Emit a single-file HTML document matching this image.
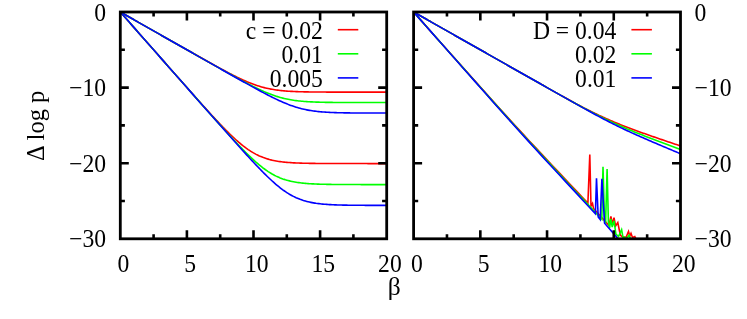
<!DOCTYPE html><html lang="en"><head><meta charset="utf-8"><style>html,body{margin:0;padding:0;background:#fff}svg{display:block;will-change:transform}text{font-family:"Liberation Serif",serif;font-size:25px;fill:#000}</style></head><body>
<svg width="747" height="319" viewBox="0 0 747 319">
<rect width="747" height="319" fill="#fff"/>
<defs><clipPath id="c1"><rect x="120.3" y="12.0" width="266.4" height="226.8"/></clipPath><clipPath id="c2"><rect x="413.6" y="12.0" width="266.9" height="226.8"/></clipPath></defs>
<g clip-path="url(#c1)">
<polyline points="120.30,12.00 121.63,12.76 122.96,13.51 124.30,14.27 125.63,15.02 126.96,15.78 128.29,16.54 129.62,17.29 130.96,18.05 132.29,18.80 133.62,19.56 134.95,20.32 136.28,21.07 137.62,21.83 138.95,22.58 140.28,23.34 141.61,24.10 142.94,24.85 144.28,25.61 145.61,26.36 146.94,27.12 148.27,27.87 149.60,28.63 150.94,29.39 152.27,30.14 153.60,30.90 154.93,31.65 156.26,32.41 157.60,33.16 158.93,33.92 160.26,34.68 161.59,35.43 162.92,36.19 164.26,36.94 165.59,37.70 166.92,38.45 168.25,39.21 169.58,39.96 170.92,40.72 172.25,41.47 173.58,42.23 174.91,42.98 176.24,43.74 177.58,44.49 178.91,45.25 180.24,46.00 181.57,46.76 182.90,47.51 184.24,48.27 185.57,49.02 186.90,49.77 188.23,50.53 189.56,51.28 190.90,52.03 192.23,52.78 193.56,53.53 194.89,54.29 196.22,55.04 197.56,55.79 198.89,56.54 200.22,57.28 201.55,58.03 202.88,58.78 204.22,59.53 205.55,60.27 206.88,61.02 208.21,61.76 209.54,62.50 210.88,63.24 212.21,63.98 213.54,64.72 214.87,65.45 216.20,66.18 217.54,66.91 218.87,67.64 220.20,68.37 221.53,69.09 222.86,69.81 224.20,70.52 225.53,71.23 226.86,71.94 228.19,72.64 229.52,73.34 230.86,74.03 232.19,74.71 233.52,75.39 234.85,76.06 236.18,76.72 237.52,77.37 238.85,78.02 240.18,78.65 241.51,79.27 242.84,79.89 244.18,80.49 245.51,81.07 246.84,81.65 248.17,82.21 249.50,82.75 250.84,83.28 252.17,83.80 253.50,84.29 254.83,84.77 256.16,85.23 257.50,85.68 258.83,86.10 260.16,86.51 261.49,86.90 262.82,87.26 264.16,87.61 265.49,87.95 266.82,88.26 268.15,88.55 269.48,88.83 270.82,89.09 272.15,89.33 273.48,89.56 274.81,89.77 276.14,89.96 277.48,90.15 278.81,90.31 280.14,90.47 281.47,90.61 282.80,90.75 284.14,90.87 285.47,90.98 286.80,91.08 288.13,91.18 289.46,91.26 290.80,91.34 292.13,91.41 293.46,91.48 294.79,91.54 296.12,91.59 297.46,91.64 298.79,91.69 300.12,91.73 301.45,91.77 302.78,91.80 304.12,91.83 305.45,91.86 306.78,91.89 308.11,91.91 309.44,91.93 310.78,91.95 312.11,91.97 313.44,91.98 314.77,92.00 316.10,92.01 317.44,92.02 318.77,92.03 320.10,92.04 321.43,92.05 322.76,92.06 324.10,92.07 325.43,92.07 326.76,92.08 328.09,92.09 329.42,92.09 330.76,92.09 332.09,92.10 333.42,92.10 334.75,92.11 336.08,92.11 337.42,92.11 338.75,92.11 340.08,92.12 341.41,92.12 342.74,92.12 344.08,92.12 345.41,92.12 346.74,92.12 348.07,92.12 349.40,92.13 350.74,92.13 352.07,92.13 353.40,92.13 354.73,92.13 356.06,92.13 357.40,92.13 358.73,92.13 360.06,92.13 361.39,92.13 362.72,92.13 364.06,92.13 365.39,92.13 366.72,92.13 368.05,92.13 369.38,92.13 370.72,92.13 372.05,92.13 373.38,92.13 374.71,92.13 376.04,92.13 377.38,92.13 378.71,92.13 380.04,92.13 381.37,92.14 382.70,92.14 384.04,92.14 385.37,92.14 386.70,92.14" fill="none" stroke="#ff0000" stroke-width="1.6" stroke-linejoin="miter" stroke-linecap="butt"/>
<polyline points="120.30,12.00 121.63,12.76 122.96,13.51 124.30,14.27 125.63,15.02 126.96,15.78 128.29,16.54 129.62,17.29 130.96,18.05 132.29,18.80 133.62,19.56 134.95,20.32 136.28,21.07 137.62,21.83 138.95,22.58 140.28,23.34 141.61,24.10 142.94,24.85 144.28,25.61 145.61,26.36 146.94,27.12 148.27,27.88 149.60,28.63 150.94,29.39 152.27,30.14 153.60,30.90 154.93,31.66 156.26,32.41 157.60,33.17 158.93,33.92 160.26,34.68 161.59,35.43 162.92,36.19 164.26,36.95 165.59,37.70 166.92,38.46 168.25,39.21 169.58,39.97 170.92,40.73 172.25,41.48 173.58,42.24 174.91,42.99 176.24,43.75 177.58,44.50 178.91,45.26 180.24,46.02 181.57,46.77 182.90,47.53 184.24,48.28 185.57,49.04 186.90,49.79 188.23,50.55 189.56,51.30 190.90,52.06 192.23,52.81 193.56,53.57 194.89,54.32 196.22,55.08 197.56,55.83 198.89,56.59 200.22,57.34 201.55,58.09 202.88,58.85 204.22,59.60 205.55,60.36 206.88,61.11 208.21,61.86 209.54,62.61 210.88,63.37 212.21,64.12 213.54,64.87 214.87,65.62 216.20,66.37 217.54,67.12 218.87,67.87 220.20,68.61 221.53,69.36 222.86,70.11 224.20,70.85 225.53,71.60 226.86,72.34 228.19,73.08 229.52,73.82 230.86,74.56 232.19,75.30 233.52,76.03 234.85,76.76 236.18,77.49 237.52,78.22 238.85,78.94 240.18,79.67 241.51,80.38 242.84,81.10 244.18,81.81 245.51,82.51 246.84,83.21 248.17,83.91 249.50,84.60 250.84,85.28 252.17,85.95 253.50,86.62 254.83,87.28 256.16,87.93 257.50,88.58 258.83,89.21 260.16,89.83 261.49,90.44 262.82,91.04 264.16,91.62 265.49,92.19 266.82,92.75 268.15,93.29 269.48,93.82 270.82,94.33 272.15,94.82 273.48,95.30 274.81,95.76 276.14,96.20 277.48,96.62 278.81,97.02 280.14,97.40 281.47,97.77 282.80,98.11 284.14,98.44 285.47,98.75 286.80,99.04 288.13,99.31 289.46,99.57 290.80,99.81 292.13,100.03 293.46,100.24 294.79,100.43 296.12,100.61 297.46,100.78 298.79,100.93 300.12,101.07 301.45,101.20 302.78,101.32 304.12,101.43 305.45,101.53 306.78,101.63 308.11,101.71 309.44,101.79 310.78,101.86 312.11,101.92 313.44,101.98 314.77,102.04 316.10,102.09 317.44,102.13 318.77,102.17 320.10,102.21 321.43,102.24 322.76,102.27 324.10,102.30 325.43,102.33 326.76,102.35 328.09,102.37 329.42,102.39 330.76,102.40 332.09,102.42 333.42,102.43 334.75,102.45 336.08,102.46 337.42,102.47 338.75,102.48 340.08,102.49 341.41,102.49 342.74,102.50 344.08,102.51 345.41,102.51 346.74,102.52 348.07,102.52 349.40,102.53 350.74,102.53 352.07,102.54 353.40,102.54 354.73,102.54 356.06,102.54 357.40,102.55 358.73,102.55 360.06,102.55 361.39,102.55 362.72,102.55 364.06,102.56 365.39,102.56 366.72,102.56 368.05,102.56 369.38,102.56 370.72,102.56 372.05,102.56 373.38,102.56 374.71,102.56 376.04,102.56 377.38,102.56 378.71,102.56 380.04,102.56 381.37,102.57 382.70,102.57 384.04,102.57 385.37,102.57 386.70,102.57" fill="none" stroke="#00ff00" stroke-width="1.6" stroke-linejoin="miter" stroke-linecap="butt"/>
<polyline points="120.30,12.00 121.63,12.76 122.96,13.51 124.30,14.27 125.63,15.02 126.96,15.78 128.29,16.54 129.62,17.29 130.96,18.05 132.29,18.80 133.62,19.56 134.95,20.32 136.28,21.07 137.62,21.83 138.95,22.58 140.28,23.34 141.61,24.10 142.94,24.85 144.28,25.61 145.61,26.36 146.94,27.12 148.27,27.88 149.60,28.63 150.94,29.39 152.27,30.14 153.60,30.90 154.93,31.66 156.26,32.41 157.60,33.17 158.93,33.92 160.26,34.68 161.59,35.44 162.92,36.19 164.26,36.95 165.59,37.70 166.92,38.46 168.25,39.22 169.58,39.97 170.92,40.73 172.25,41.48 173.58,42.24 174.91,43.00 176.24,43.75 177.58,44.51 178.91,45.26 180.24,46.02 181.57,46.77 182.90,47.53 184.24,48.29 185.57,49.04 186.90,49.80 188.23,50.55 189.56,51.31 190.90,52.07 192.23,52.82 193.56,53.58 194.89,54.33 196.22,55.09 197.56,55.84 198.89,56.60 200.22,57.36 201.55,58.11 202.88,58.87 204.22,59.62 205.55,60.38 206.88,61.13 208.21,61.89 209.54,62.64 210.88,63.40 212.21,64.15 213.54,64.91 214.87,65.66 216.20,66.42 217.54,67.17 218.87,67.92 220.20,68.68 221.53,69.43 222.86,70.19 224.20,70.94 225.53,71.69 226.86,72.44 228.19,73.20 229.52,73.95 230.86,74.70 232.19,75.45 233.52,76.20 234.85,76.95 236.18,77.70 237.52,78.45 238.85,79.20 240.18,79.94 241.51,80.69 242.84,81.44 244.18,82.18 245.51,82.92 246.84,83.66 248.17,84.40 249.50,85.14 250.84,85.88 252.17,86.61 253.50,87.34 254.83,88.07 256.16,88.80 257.50,89.52 258.83,90.25 260.16,90.96 261.49,91.68 262.82,92.39 264.16,93.09 265.49,93.79 266.82,94.48 268.15,95.17 269.48,95.85 270.82,96.53 272.15,97.20 273.48,97.86 274.81,98.51 276.14,99.15 277.48,99.78 278.81,100.40 280.14,101.01 281.47,101.60 282.80,102.19 284.14,102.76 285.47,103.31 286.80,103.85 288.13,104.38 289.46,104.89 290.80,105.38 292.13,105.85 293.46,106.31 294.79,106.75 296.12,107.17 297.46,107.57 298.79,107.95 300.12,108.31 301.45,108.66 302.78,108.98 304.12,109.29 305.45,109.58 306.78,109.85 308.11,110.10 309.44,110.34 310.78,110.56 312.11,110.77 313.44,110.96 314.77,111.14 316.10,111.30 317.44,111.46 318.77,111.60 320.10,111.72 321.43,111.84 322.76,111.95 324.10,112.05 325.43,112.14 326.76,112.23 328.09,112.31 329.42,112.38 330.76,112.44 332.09,112.50 333.42,112.55 334.75,112.60 336.08,112.64 337.42,112.68 338.75,112.72 340.08,112.75 341.41,112.78 342.74,112.81 344.08,112.84 345.41,112.86 346.74,112.88 348.07,112.90 349.40,112.91 350.74,112.93 352.07,112.94 353.40,112.96 354.73,112.97 356.06,112.98 357.40,112.99 358.73,113.00 360.06,113.00 361.39,113.01 362.72,113.02 364.06,113.02 365.39,113.03 366.72,113.03 368.05,113.04 369.38,113.04 370.72,113.04 372.05,113.05 373.38,113.05 374.71,113.05 376.04,113.06 377.38,113.06 378.71,113.06 380.04,113.06 381.37,113.06 382.70,113.06 384.04,113.07 385.37,113.07 386.70,113.07" fill="none" stroke="#0000ff" stroke-width="1.6" stroke-linejoin="miter" stroke-linecap="butt"/>
<polyline points="120.30,12.00 121.63,13.51 122.96,15.02 124.30,16.54 125.63,18.05 126.96,19.56 128.29,21.07 129.62,22.58 130.96,24.09 132.29,25.61 133.62,27.12 134.95,28.63 136.28,30.14 137.62,31.65 138.95,33.17 140.28,34.68 141.61,36.19 142.94,37.70 144.28,39.21 145.61,40.72 146.94,42.24 148.27,43.75 149.60,45.26 150.94,46.77 152.27,48.28 153.60,49.79 154.93,51.30 156.26,52.81 157.60,54.32 158.93,55.84 160.26,57.35 161.59,58.86 162.92,60.37 164.26,61.88 165.59,63.39 166.92,64.90 168.25,66.41 169.58,67.92 170.92,69.43 172.25,70.93 173.58,72.44 174.91,73.95 176.24,75.46 177.58,76.97 178.91,78.47 180.24,79.98 181.57,81.49 182.90,82.99 184.24,84.49 185.57,86.00 186.90,87.50 188.23,89.00 189.56,90.50 190.90,92.00 192.23,93.50 193.56,95.00 194.89,96.49 196.22,97.99 197.56,99.48 198.89,100.97 200.22,102.45 201.55,103.94 202.88,105.42 204.22,106.90 205.55,108.37 206.88,109.84 208.21,111.31 209.54,112.77 210.88,114.23 212.21,115.68 213.54,117.12 214.87,118.56 216.20,119.99 217.54,121.42 218.87,122.83 220.20,124.24 221.53,125.63 222.86,127.01 224.20,128.38 225.53,129.74 226.86,131.09 228.19,132.41 229.52,133.72 230.86,135.02 232.19,136.29 233.52,137.54 234.85,138.77 236.18,139.98 237.52,141.16 238.85,142.32 240.18,143.44 241.51,144.54 242.84,145.61 244.18,146.64 245.51,147.65 246.84,148.61 248.17,149.55 249.50,150.44 250.84,151.30 252.17,152.12 253.50,152.91 254.83,153.65 256.16,154.36 257.50,155.03 258.83,155.67 260.16,156.27 261.49,156.83 262.82,157.36 264.16,157.85 265.49,158.31 266.82,158.74 268.15,159.14 269.48,159.51 270.82,159.85 272.15,160.17 273.48,160.46 274.81,160.73 276.14,160.98 277.48,161.21 278.81,161.42 280.14,161.61 281.47,161.79 282.80,161.95 284.14,162.10 285.47,162.23 286.80,162.36 288.13,162.47 289.46,162.57 290.80,162.66 292.13,162.75 293.46,162.83 294.79,162.90 296.12,162.96 297.46,163.02 298.79,163.07 300.12,163.12 301.45,163.16 302.78,163.20 304.12,163.24 305.45,163.27 306.78,163.30 308.11,163.32 309.44,163.35 310.78,163.37 312.11,163.39 313.44,163.41 314.77,163.42 316.10,163.44 317.44,163.45 318.77,163.46 320.10,163.47 321.43,163.48 322.76,163.49 324.10,163.50 325.43,163.51 326.76,163.51 328.09,163.52 329.42,163.53 330.76,163.53 332.09,163.54 333.42,163.54 334.75,163.54 336.08,163.55 337.42,163.55 338.75,163.55 340.08,163.55 341.41,163.56 342.74,163.56 344.08,163.56 345.41,163.56 346.74,163.56 348.07,163.57 349.40,163.57 350.74,163.57 352.07,163.57 353.40,163.57 354.73,163.57 356.06,163.57 357.40,163.57 358.73,163.57 360.06,163.57 361.39,163.57 362.72,163.57 364.06,163.57 365.39,163.57 366.72,163.57 368.05,163.58 369.38,163.58 370.72,163.58 372.05,163.58 373.38,163.58 374.71,163.58 376.04,163.58 377.38,163.58 378.71,163.58 380.04,163.58 381.37,163.58 382.70,163.58 384.04,163.58 385.37,163.58 386.70,163.58" fill="none" stroke="#ff0000" stroke-width="1.6" stroke-linejoin="miter" stroke-linecap="butt"/>
<polyline points="120.30,12.00 121.63,13.51 122.96,15.02 124.30,16.54 125.63,18.05 126.96,19.56 128.29,21.07 129.62,22.58 130.96,24.10 132.29,25.61 133.62,27.12 134.95,28.63 136.28,30.14 137.62,31.66 138.95,33.17 140.28,34.68 141.61,36.19 142.94,37.70 144.28,39.21 145.61,40.73 146.94,42.24 148.27,43.75 149.60,45.26 150.94,46.77 152.27,48.29 153.60,49.80 154.93,51.31 156.26,52.82 157.60,54.33 158.93,55.84 160.26,57.36 161.59,58.87 162.92,60.38 164.26,61.89 165.59,63.40 166.92,64.91 168.25,66.43 169.58,67.94 170.92,69.45 172.25,70.96 173.58,72.47 174.91,73.98 176.24,75.49 177.58,77.00 178.91,78.51 180.24,80.02 181.57,81.54 182.90,83.05 184.24,84.56 185.57,86.07 186.90,87.58 188.23,89.08 189.56,90.59 190.90,92.10 192.23,93.61 193.56,95.12 194.89,96.63 196.22,98.13 197.56,99.64 198.89,101.15 200.22,102.65 201.55,104.16 202.88,105.66 204.22,107.17 205.55,108.67 206.88,110.17 208.21,111.67 209.54,113.17 210.88,114.67 212.21,116.16 213.54,117.66 214.87,119.15 216.20,120.64 217.54,122.13 218.87,123.62 220.20,125.10 221.53,126.58 222.86,128.06 224.20,129.53 225.53,131.00 226.86,132.47 228.19,133.93 229.52,135.39 230.86,136.84 232.19,138.28 233.52,139.72 234.85,141.15 236.18,142.57 237.52,143.99 238.85,145.39 240.18,146.79 241.51,148.17 242.84,149.54 244.18,150.89 245.51,152.24 246.84,153.56 248.17,154.87 249.50,156.16 250.84,157.43 252.17,158.68 253.50,159.91 254.83,161.12 256.16,162.30 257.50,163.45 258.83,164.57 260.16,165.67 261.49,166.73 262.82,167.76 264.16,168.76 265.49,169.73 266.82,170.65 268.15,171.55 269.48,172.40 270.82,173.22 272.15,174.00 273.48,174.74 274.81,175.45 276.14,176.12 277.48,176.75 278.81,177.34 280.14,177.90 281.47,178.42 282.80,178.91 284.14,179.37 285.47,179.80 286.80,180.19 288.13,180.56 289.46,180.90 290.80,181.22 292.13,181.51 293.46,181.78 294.79,182.02 296.12,182.25 297.46,182.46 298.79,182.65 300.12,182.82 301.45,182.98 302.78,183.13 304.12,183.26 305.45,183.38 306.78,183.50 308.11,183.60 309.44,183.69 310.78,183.77 312.11,183.85 313.44,183.92 314.77,183.98 316.10,184.04 317.44,184.09 318.77,184.14 320.10,184.18 321.43,184.22 322.76,184.26 324.10,184.29 325.43,184.32 326.76,184.34 328.09,184.37 329.42,184.39 330.76,184.41 332.09,184.43 333.42,184.44 334.75,184.46 336.08,184.47 337.42,184.48 338.75,184.49 340.08,184.50 341.41,184.51 342.74,184.52 344.08,184.53 345.41,184.53 346.74,184.54 348.07,184.54 349.40,184.55 350.74,184.55 352.07,184.56 353.40,184.56 354.73,184.56 356.06,184.57 357.40,184.57 358.73,184.57 360.06,184.57 361.39,184.58 362.72,184.58 364.06,184.58 365.39,184.58 366.72,184.58 368.05,184.58 369.38,184.58 370.72,184.59 372.05,184.59 373.38,184.59 374.71,184.59 376.04,184.59 377.38,184.59 378.71,184.59 380.04,184.59 381.37,184.59 382.70,184.59 384.04,184.59 385.37,184.59 386.70,184.59" fill="none" stroke="#00ff00" stroke-width="1.6" stroke-linejoin="miter" stroke-linecap="butt"/>
<polyline points="120.30,12.00 121.63,13.51 122.96,15.02 124.30,16.54 125.63,18.05 126.96,19.56 128.29,21.07 129.62,22.58 130.96,24.10 132.29,25.61 133.62,27.12 134.95,28.63 136.28,30.14 137.62,31.66 138.95,33.17 140.28,34.68 141.61,36.19 142.94,37.70 144.28,39.22 145.61,40.73 146.94,42.24 148.27,43.75 149.60,45.26 150.94,46.78 152.27,48.29 153.60,49.80 154.93,51.31 156.26,52.82 157.60,54.34 158.93,55.85 160.26,57.36 161.59,58.87 162.92,60.38 164.26,61.89 165.59,63.41 166.92,64.92 168.25,66.43 169.58,67.94 170.92,69.45 172.25,70.97 173.58,72.48 174.91,73.99 176.24,75.50 177.58,77.01 178.91,78.52 180.24,80.04 181.57,81.55 182.90,83.06 184.24,84.57 185.57,86.08 186.90,87.59 188.23,89.11 189.56,90.62 190.90,92.13 192.23,93.64 193.56,95.15 194.89,96.66 196.22,98.17 197.56,99.68 198.89,101.19 200.22,102.70 201.55,104.21 202.88,105.72 204.22,107.23 205.55,108.74 206.88,110.25 208.21,111.76 209.54,113.27 210.88,114.78 212.21,116.29 213.54,117.79 214.87,119.30 216.20,120.81 217.54,122.31 218.87,123.82 220.20,125.32 221.53,126.83 222.86,128.33 224.20,129.83 225.53,131.33 226.86,132.83 228.19,134.33 229.52,135.83 230.86,137.33 232.19,138.82 233.52,140.31 234.85,141.80 236.18,143.29 237.52,144.78 238.85,146.26 240.18,147.74 241.51,149.22 242.84,150.69 244.18,152.16 245.51,153.63 246.84,155.09 248.17,156.54 249.50,157.99 250.84,159.43 252.17,160.87 253.50,162.30 254.83,163.72 256.16,165.13 257.50,166.53 258.83,167.92 260.16,169.30 261.49,170.67 262.82,172.02 264.16,173.36 265.49,174.68 266.82,175.99 268.15,177.27 269.48,178.54 270.82,179.78 272.15,181.01 273.48,182.20 274.81,183.38 276.14,184.52 277.48,185.64 278.81,186.73 280.14,187.78 281.47,188.81 282.80,189.80 284.14,190.75 285.47,191.67 286.80,192.55 288.13,193.40 289.46,194.21 290.80,194.98 292.13,195.71 293.46,196.41 294.79,197.07 296.12,197.69 297.46,198.27 298.79,198.82 300.12,199.34 301.45,199.82 302.78,200.27 304.12,200.69 305.45,201.08 306.78,201.44 308.11,201.77 309.44,202.08 310.78,202.37 312.11,202.63 313.44,202.87 314.77,203.09 316.10,203.30 317.44,203.48 318.77,203.65 320.10,203.81 321.43,203.95 322.76,204.08 324.10,204.20 325.43,204.31 326.76,204.41 328.09,204.50 329.42,204.58 330.76,204.66 332.09,204.73 333.42,204.79 334.75,204.84 336.08,204.89 337.42,204.94 338.75,204.98 340.08,205.02 341.41,205.05 342.74,205.08 344.08,205.11 345.41,205.14 346.74,205.16 348.07,205.18 349.40,205.20 350.74,205.22 352.07,205.24 353.40,205.25 354.73,205.26 356.06,205.27 357.40,205.28 358.73,205.29 360.06,205.30 361.39,205.31 362.72,205.32 364.06,205.32 365.39,205.33 366.72,205.33 368.05,205.34 369.38,205.34 370.72,205.35 372.05,205.35 373.38,205.35 374.71,205.36 376.04,205.36 377.38,205.36 378.71,205.36 380.04,205.37 381.37,205.37 382.70,205.37 384.04,205.37 385.37,205.37 386.70,205.37" fill="none" stroke="#0000ff" stroke-width="1.6" stroke-linejoin="miter" stroke-linecap="butt"/>
</g>
<g clip-path="url(#c2)">
<polyline points="413.60,12.00 414.93,12.76 416.27,13.51 417.60,14.27 418.94,15.02 420.27,15.78 421.61,16.54 422.94,17.29 424.28,18.05 425.61,18.80 426.95,19.56 428.28,20.32 429.61,21.07 430.95,21.83 432.28,22.58 433.62,23.34 434.95,24.10 436.29,24.85 437.62,25.61 438.96,26.36 440.29,27.12 441.62,27.88 442.96,28.63 444.29,29.39 445.63,30.14 446.96,30.90 448.30,31.66 449.63,32.41 450.97,33.17 452.30,33.92 453.63,34.68 454.97,35.44 456.30,36.19 457.64,36.95 458.97,37.70 460.31,38.46 461.64,39.22 462.98,39.97 464.31,40.73 465.65,41.48 466.98,42.24 468.31,43.00 469.65,43.75 470.98,44.51 472.32,45.26 473.65,46.02 474.99,46.78 476.32,47.53 477.66,48.29 478.99,49.04 480.33,49.80 481.66,50.56 482.99,51.31 484.33,52.07 485.66,52.82 487.00,53.58 488.33,54.34 489.67,55.09 491.00,55.85 492.34,56.60 493.67,57.36 495.00,58.12 496.34,58.87 497.67,59.63 499.01,60.38 500.34,61.14 501.68,61.90 503.01,62.65 504.35,63.41 505.68,64.16 507.01,64.92 508.35,65.68 509.68,66.43 511.02,67.19 512.35,67.94 513.69,68.70 515.02,69.45 516.36,70.21 517.69,70.97 519.03,71.72 520.36,72.48 521.69,73.23 523.03,73.99 524.36,74.74 525.70,75.50 527.03,76.26 528.37,77.01 529.70,77.77 531.04,78.52 532.37,79.28 533.71,80.03 535.04,80.79 536.37,81.54 537.71,82.30 539.04,83.05 540.38,83.81 541.71,84.56 543.05,85.32 544.38,86.07 545.72,86.82 547.05,87.58 548.38,88.33 549.72,89.08 551.05,89.83 552.39,90.59 553.72,91.34 555.06,92.09 556.39,92.84 557.73,93.59 559.06,94.33 560.39,95.08 561.73,95.83 563.06,96.57 564.40,97.31 565.73,98.06 567.07,98.79 568.40,99.53 569.74,100.27 571.07,101.00 572.41,101.73 573.74,102.45 575.07,103.18 576.41,103.90 577.74,104.61 579.08,105.32 580.41,106.03 581.75,106.73 583.08,107.43 584.42,108.12 585.75,108.80 587.09,109.48 588.42,110.16 589.75,110.83 591.09,111.49 592.42,112.15 593.76,112.80 595.09,113.45 596.43,114.09 597.76,114.72 599.10,115.35 600.43,115.97 601.76,116.59 603.10,117.20 604.43,117.81 605.77,118.41 607.10,119.00 608.44,119.59 609.77,120.17 611.11,120.75 612.44,121.32 613.77,121.88 615.11,122.45 616.44,123.00 617.78,123.55 619.11,124.09 620.45,124.63 621.78,125.17 623.12,125.69 624.45,126.22 625.79,126.74 627.12,127.25 628.45,127.76 629.79,128.27 631.12,128.77 632.46,129.27 633.79,129.76 635.13,130.25 636.46,130.74 637.80,131.22 639.13,131.71 640.46,132.18 641.80,132.66 643.13,133.14 644.47,133.61 645.80,134.08 647.14,134.55 648.47,135.01 649.81,135.48 651.14,135.94 652.48,136.41 653.81,136.87 655.14,137.33 656.48,137.79 657.81,138.25 659.15,138.71 660.48,139.16 661.82,139.62 663.15,140.08 664.49,140.53 665.82,140.99 667.15,141.44 668.49,141.89 669.82,142.35 671.16,142.80 672.49,143.25 673.83,143.71 675.16,144.16 676.50,144.61 677.83,145.06 679.17,145.51 680.50,145.97" fill="none" stroke="#ff0000" stroke-width="1.6" stroke-linejoin="miter" stroke-linecap="butt"/>
<polyline points="413.60,12.00 414.93,12.76 416.27,13.51 417.60,14.27 418.94,15.02 420.27,15.78 421.61,16.54 422.94,17.29 424.28,18.05 425.61,18.80 426.95,19.56 428.28,20.32 429.61,21.07 430.95,21.83 432.28,22.58 433.62,23.34 434.95,24.10 436.29,24.85 437.62,25.61 438.96,26.36 440.29,27.12 441.62,27.88 442.96,28.63 444.29,29.39 445.63,30.14 446.96,30.90 448.30,31.66 449.63,32.41 450.97,33.17 452.30,33.92 453.63,34.68 454.97,35.44 456.30,36.19 457.64,36.95 458.97,37.70 460.31,38.46 461.64,39.22 462.98,39.97 464.31,40.73 465.65,41.48 466.98,42.24 468.31,43.00 469.65,43.75 470.98,44.51 472.32,45.26 473.65,46.02 474.99,46.78 476.32,47.53 477.66,48.29 478.99,49.04 480.33,49.80 481.66,50.56 482.99,51.31 484.33,52.07 485.66,52.82 487.00,53.58 488.33,54.34 489.67,55.09 491.00,55.85 492.34,56.60 493.67,57.36 495.00,58.12 496.34,58.87 497.67,59.63 499.01,60.38 500.34,61.14 501.68,61.90 503.01,62.65 504.35,63.41 505.68,64.16 507.01,64.92 508.35,65.68 509.68,66.43 511.02,67.19 512.35,67.94 513.69,68.70 515.02,69.45 516.36,70.21 517.69,70.97 519.03,71.72 520.36,72.48 521.69,73.23 523.03,73.99 524.36,74.75 525.70,75.50 527.03,76.26 528.37,77.01 529.70,77.77 531.04,78.52 532.37,79.28 533.71,80.03 535.04,80.79 536.37,81.55 537.71,82.30 539.04,83.06 540.38,83.81 541.71,84.57 543.05,85.32 544.38,86.07 545.72,86.83 547.05,87.58 548.38,88.34 549.72,89.09 551.05,89.84 552.39,90.60 553.72,91.35 555.06,92.10 556.39,92.86 557.73,93.61 559.06,94.36 560.39,95.11 561.73,95.86 563.06,96.61 564.40,97.35 565.73,98.10 567.07,98.85 568.40,99.59 569.74,100.33 571.07,101.08 572.41,101.81 573.74,102.55 575.07,103.29 576.41,104.02 577.74,104.75 579.08,105.48 580.41,106.21 581.75,106.93 583.08,107.65 584.42,108.37 585.75,109.08 587.09,109.79 588.42,110.49 589.75,111.19 591.09,111.89 592.42,112.58 593.76,113.27 595.09,113.95 596.43,114.63 597.76,115.31 599.10,115.98 600.43,116.64 601.76,117.30 603.10,117.96 604.43,118.61 605.77,119.26 607.10,119.90 608.44,120.53 609.77,121.16 611.11,121.79 612.44,122.41 613.77,123.02 615.11,123.63 616.44,124.23 617.78,124.83 619.11,125.43 620.45,126.02 621.78,126.60 623.12,127.18 624.45,127.75 625.79,128.32 627.12,128.88 628.45,129.44 629.79,130.00 631.12,130.55 632.46,131.10 633.79,131.64 635.13,132.19 636.46,132.72 637.80,133.26 639.13,133.79 640.46,134.32 641.80,134.85 643.13,135.37 644.47,135.90 645.80,136.42 647.14,136.94 648.47,137.45 649.81,137.97 651.14,138.49 652.48,139.00 653.81,139.51 655.14,140.02 656.48,140.53 657.81,141.04 659.15,141.55 660.48,142.06 661.82,142.57 663.15,143.07 664.49,143.58 665.82,144.08 667.15,144.59 668.49,145.09 669.82,145.60 671.16,146.10 672.49,146.61 673.83,147.11 675.16,147.61 676.50,148.11 677.83,148.62 679.17,149.12 680.50,149.62" fill="none" stroke="#00ff00" stroke-width="1.6" stroke-linejoin="miter" stroke-linecap="butt"/>
<polyline points="413.60,12.00 414.93,12.76 416.27,13.51 417.60,14.27 418.94,15.02 420.27,15.78 421.61,16.54 422.94,17.29 424.28,18.05 425.61,18.80 426.95,19.56 428.28,20.32 429.61,21.07 430.95,21.83 432.28,22.58 433.62,23.34 434.95,24.10 436.29,24.85 437.62,25.61 438.96,26.36 440.29,27.12 441.62,27.88 442.96,28.63 444.29,29.39 445.63,30.14 446.96,30.90 448.30,31.66 449.63,32.41 450.97,33.17 452.30,33.92 453.63,34.68 454.97,35.44 456.30,36.19 457.64,36.95 458.97,37.70 460.31,38.46 461.64,39.22 462.98,39.97 464.31,40.73 465.65,41.48 466.98,42.24 468.31,43.00 469.65,43.75 470.98,44.51 472.32,45.26 473.65,46.02 474.99,46.78 476.32,47.53 477.66,48.29 478.99,49.04 480.33,49.80 481.66,50.56 482.99,51.31 484.33,52.07 485.66,52.82 487.00,53.58 488.33,54.34 489.67,55.09 491.00,55.85 492.34,56.60 493.67,57.36 495.00,58.12 496.34,58.87 497.67,59.63 499.01,60.38 500.34,61.14 501.68,61.90 503.01,62.65 504.35,63.41 505.68,64.16 507.01,64.92 508.35,65.68 509.68,66.43 511.02,67.19 512.35,67.94 513.69,68.70 515.02,69.46 516.36,70.21 517.69,70.97 519.03,71.72 520.36,72.48 521.69,73.23 523.03,73.99 524.36,74.75 525.70,75.50 527.03,76.26 528.37,77.01 529.70,77.77 531.04,78.52 532.37,79.28 533.71,80.04 535.04,80.79 536.37,81.55 537.71,82.30 539.04,83.06 540.38,83.81 541.71,84.57 543.05,85.32 544.38,86.08 545.72,86.83 547.05,87.59 548.38,88.34 549.72,89.10 551.05,89.85 552.39,90.61 553.72,91.36 555.06,92.12 556.39,92.87 557.73,93.62 559.06,94.38 560.39,95.13 561.73,95.88 563.06,96.64 564.40,97.39 565.73,98.14 567.07,98.89 568.40,99.64 569.74,100.39 571.07,101.14 572.41,101.89 573.74,102.64 575.07,103.39 576.41,104.14 577.74,104.88 579.08,105.63 580.41,106.37 581.75,107.12 583.08,107.86 584.42,108.60 585.75,109.34 587.09,110.07 588.42,110.81 589.75,111.54 591.09,112.27 592.42,113.00 593.76,113.73 595.09,114.45 596.43,115.18 597.76,115.89 599.10,116.61 600.43,117.32 601.76,118.03 603.10,118.74 604.43,119.44 605.77,120.13 607.10,120.83 608.44,121.52 609.77,122.20 611.11,122.88 612.44,123.55 613.77,124.22 615.11,124.89 616.44,125.55 617.78,126.20 619.11,126.86 620.45,127.50 621.78,128.14 623.12,128.78 624.45,129.41 625.79,130.04 627.12,130.66 628.45,131.28 629.79,131.89 631.12,132.50 632.46,133.11 633.79,133.71 635.13,134.31 636.46,134.91 637.80,135.50 639.13,136.09 640.46,136.68 641.80,137.27 643.13,137.85 644.47,138.43 645.80,139.01 647.14,139.59 648.47,140.17 649.81,140.74 651.14,141.32 652.48,141.89 653.81,142.46 655.14,143.03 656.48,143.60 657.81,144.17 659.15,144.74 660.48,145.30 661.82,145.87 663.15,146.43 664.49,147.00 665.82,147.56 667.15,148.13 668.49,148.69 669.82,149.25 671.16,149.82 672.49,150.38 673.83,150.94 675.16,151.50 676.50,152.07 677.83,152.63 679.17,153.19 680.50,153.75" fill="none" stroke="#0000ff" stroke-width="1.6" stroke-linejoin="miter" stroke-linecap="butt"/>
<polyline points="413.60,12.00 419.41,18.57 425.22,25.12 431.03,31.67 436.84,38.20 442.65,44.74 448.46,51.26 454.27,57.78 460.08,64.30 465.89,70.81 471.70,77.31 477.51,83.81 483.32,90.30 489.13,96.77 494.94,103.23 500.75,109.68 506.56,116.09 512.37,122.48 518.18,128.83 523.99,135.14 529.80,141.42 535.61,147.66 541.42,153.87 547.23,160.06 553.04,166.23 558.85,172.39 564.66,178.54 570.47,184.69 576.28,190.82 582.09,196.95 587.90,203.08 589.80,154.50 591.00,206.00 592.50,203.50 593.50,208.50 609.00,225.60 610.90,216.40 612.30,224.00 614.00,217.60 615.60,226.00 617.80,222.60 620.30,235.00 622.00,236.50 626.00,237.50 628.50,231.50 629.80,236.00 631.00,233.30 632.50,237.50 634.80,236.50 636.00,239.00" fill="none" stroke="#ff0000" stroke-width="1.6" stroke-linejoin="miter" stroke-linecap="butt"/>
<polyline points="413.60,12.00 419.87,19.10 426.15,26.19 432.42,33.28 438.69,40.36 444.97,47.44 451.24,54.51 457.51,61.58 463.79,68.65 470.06,75.72 476.33,82.77 482.61,89.82 488.88,96.86 495.15,103.88 501.43,110.89 507.70,117.86 513.97,124.80 520.25,131.70 526.52,138.55 532.79,145.37 539.07,152.14 545.34,158.90 551.61,165.63 557.89,172.34 564.16,179.05 570.43,185.74 576.71,192.44 582.98,199.12 589.25,205.81 595.53,212.49 601.80,219.18 603.00,166.70 604.60,222.00 605.60,222.50 607.10,168.90 608.40,222.00 609.60,228.00 610.90,218.90 612.20,227.00 614.00,220.80 615.90,234.00 618.50,236.50 621.60,229.60 622.90,237.00 627.00,238.00 629.10,235.20 630.50,239.00" fill="none" stroke="#00ff00" stroke-width="1.6" stroke-linejoin="miter" stroke-linecap="butt"/>
<polyline points="413.60,12.00 419.66,18.87 425.72,25.73 431.78,32.60 437.84,39.46 443.90,46.33 449.96,53.19 456.02,60.06 462.08,66.92 468.14,73.78 474.20,80.64 480.26,87.49 486.32,94.34 492.38,101.17 498.44,107.99 504.50,114.79 510.56,121.56 516.62,128.30 522.68,135.00 528.74,141.66 534.80,148.28 540.86,154.88 546.92,161.45 552.98,168.01 559.04,174.55 565.10,181.09 571.16,187.62 577.22,194.15 583.28,200.68 589.34,207.20 595.40,213.73 596.50,178.20 598.20,217.00 600.20,219.50 601.90,178.80 604.60,223.30 618.30,239.00" fill="none" stroke="#0000ff" stroke-width="1.6" stroke-linejoin="miter" stroke-linecap="butt"/>
</g>
<rect x="120.3" y="12.0" width="266.4" height="226.8" fill="none" stroke="#000" stroke-width="2.8"/>
<path d="M153.60 238.8 v-4.6 M153.60 12.0 v4.6" stroke="#000" stroke-width="2.6" fill="none"/>
<path d="M186.90 238.8 v-8.5 M186.90 12.0 v8.5" stroke="#000" stroke-width="2.6" fill="none"/>
<path d="M220.20 238.8 v-4.6 M220.20 12.0 v4.6" stroke="#000" stroke-width="2.6" fill="none"/>
<path d="M253.50 238.8 v-8.5 M253.50 12.0 v8.5" stroke="#000" stroke-width="2.6" fill="none"/>
<path d="M286.80 238.8 v-4.6 M286.80 12.0 v4.6" stroke="#000" stroke-width="2.6" fill="none"/>
<path d="M320.10 238.8 v-8.5 M320.10 12.0 v8.5" stroke="#000" stroke-width="2.6" fill="none"/>
<path d="M353.40 238.8 v-4.6 M353.40 12.0 v4.6" stroke="#000" stroke-width="2.6" fill="none"/>
<path d="M120.3 49.80 h4.6 M386.7 49.80 h-4.6" stroke="#000" stroke-width="2.6" fill="none"/>
<path d="M120.3 87.60 h8.5 M386.7 87.60 h-8.5" stroke="#000" stroke-width="2.6" fill="none"/>
<path d="M120.3 125.40 h4.6 M386.7 125.40 h-4.6" stroke="#000" stroke-width="2.6" fill="none"/>
<path d="M120.3 163.20 h8.5 M386.7 163.20 h-8.5" stroke="#000" stroke-width="2.6" fill="none"/>
<path d="M120.3 201.00 h4.6 M386.7 201.00 h-4.6" stroke="#000" stroke-width="2.6" fill="none"/>
<rect x="413.6" y="12.0" width="266.9" height="226.8" fill="none" stroke="#000" stroke-width="2.8"/>
<path d="M446.96 238.8 v-4.6 M446.96 12.0 v4.6" stroke="#000" stroke-width="2.6" fill="none"/>
<path d="M480.33 238.8 v-8.5 M480.33 12.0 v8.5" stroke="#000" stroke-width="2.6" fill="none"/>
<path d="M513.69 238.8 v-4.6 M513.69 12.0 v4.6" stroke="#000" stroke-width="2.6" fill="none"/>
<path d="M547.05 238.8 v-8.5 M547.05 12.0 v8.5" stroke="#000" stroke-width="2.6" fill="none"/>
<path d="M580.41 238.8 v-4.6 M580.41 12.0 v4.6" stroke="#000" stroke-width="2.6" fill="none"/>
<path d="M613.77 238.8 v-8.5 M613.77 12.0 v8.5" stroke="#000" stroke-width="2.6" fill="none"/>
<path d="M647.14 238.8 v-4.6 M647.14 12.0 v4.6" stroke="#000" stroke-width="2.6" fill="none"/>
<path d="M413.6 49.80 h4.6 M680.5 49.80 h-4.6" stroke="#000" stroke-width="2.6" fill="none"/>
<path d="M413.6 87.60 h8.5 M680.5 87.60 h-8.5" stroke="#000" stroke-width="2.6" fill="none"/>
<path d="M413.6 125.40 h4.6 M680.5 125.40 h-4.6" stroke="#000" stroke-width="2.6" fill="none"/>
<path d="M413.6 163.20 h8.5 M680.5 163.20 h-8.5" stroke="#000" stroke-width="2.6" fill="none"/>
<path d="M413.6 201.00 h4.6 M680.5 201.00 h-4.6" stroke="#000" stroke-width="2.6" fill="none"/>
<text transform="translate(106.00,20.60) scale(0.945,1)" text-anchor="end" >0</text>
<text transform="translate(694.60,20.60) scale(0.945,1)" text-anchor="start" >0</text>
<text transform="translate(106.00,96.20) scale(0.945,1)" text-anchor="end" >−10</text>
<text transform="translate(694.60,96.20) scale(0.945,1)" text-anchor="start" >−10</text>
<text transform="translate(106.00,171.80) scale(0.945,1)" text-anchor="end" >−20</text>
<text transform="translate(694.60,171.80) scale(0.945,1)" text-anchor="start" >−20</text>
<text transform="translate(106.00,247.40) scale(0.945,1)" text-anchor="end" >−30</text>
<text transform="translate(694.60,247.40) scale(0.945,1)" text-anchor="start" >−30</text>
<text transform="translate(123.50,271.90) scale(0.945,1)" text-anchor="middle" >0</text>
<text transform="translate(416.80,271.90) scale(0.945,1)" text-anchor="middle" >0</text>
<text transform="translate(190.10,271.90) scale(0.945,1)" text-anchor="middle" >5</text>
<text transform="translate(483.53,271.90) scale(0.945,1)" text-anchor="middle" >5</text>
<text transform="translate(256.70,271.90) scale(0.945,1)" text-anchor="middle" >10</text>
<text transform="translate(550.25,271.90) scale(0.945,1)" text-anchor="middle" >10</text>
<text transform="translate(323.30,271.90) scale(0.945,1)" text-anchor="middle" >15</text>
<text transform="translate(616.98,271.90) scale(0.945,1)" text-anchor="middle" >15</text>
<text transform="translate(389.90,271.90) scale(0.945,1)" text-anchor="middle" >20</text>
<text transform="translate(683.70,271.90) scale(0.945,1)" text-anchor="middle" >20</text>
<text transform="translate(394.2,295.2) scale(0.98,1)" text-anchor="middle" style="font-size:26px">β</text>
<text transform="translate(43.7,125.8) rotate(-90) scale(0.98,1)" text-anchor="middle">Δ log p</text>
<text transform="translate(322.80,38.60) scale(0.945,1)" text-anchor="end" >c = 0.02</text>
<path d="M337.8 29.7 H358.3" stroke="#ff0000" stroke-width="1.6"/>
<text transform="translate(322.80,62.70) scale(0.945,1)" text-anchor="end" >0.01</text>
<path d="M337.8 53.8 H358.3" stroke="#00ff00" stroke-width="1.6"/>
<text transform="translate(322.80,86.80) scale(0.945,1)" text-anchor="end" >0.005</text>
<path d="M337.8 77.9 H358.3" stroke="#0000ff" stroke-width="1.6"/>
<text transform="translate(616.40,38.60) scale(0.945,1)" text-anchor="end" >D = 0.04</text>
<path d="M631.4000000000001 29.7 H651.9000000000001" stroke="#ff0000" stroke-width="1.6"/>
<text transform="translate(616.40,62.70) scale(0.945,1)" text-anchor="end" >0.02</text>
<path d="M631.4000000000001 53.8 H651.9000000000001" stroke="#00ff00" stroke-width="1.6"/>
<text transform="translate(616.40,86.80) scale(0.945,1)" text-anchor="end" >0.01</text>
<path d="M631.4000000000001 77.9 H651.9000000000001" stroke="#0000ff" stroke-width="1.6"/>
</svg></body></html>
